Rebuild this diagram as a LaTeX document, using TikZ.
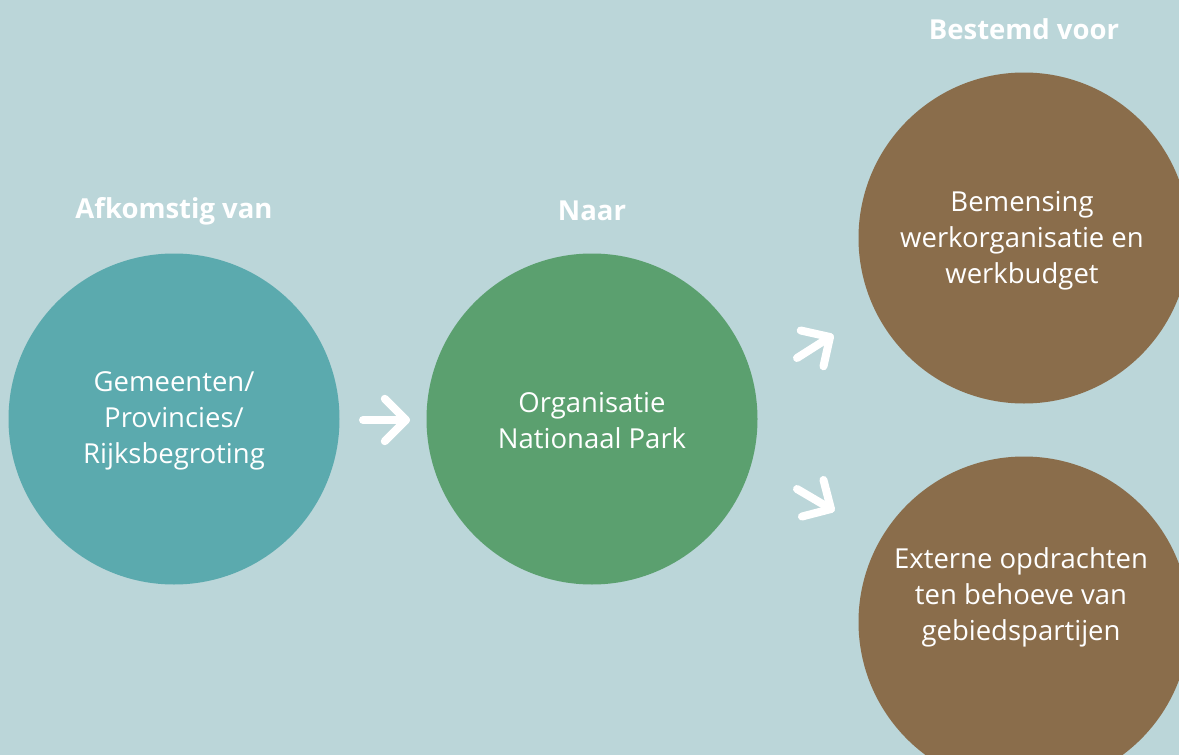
\documentclass[tikz,border=0pt]{standalone}
\usepackage{fontspec}
\setmainfont{Open Sans}
\usetikzlibrary{calc}
\definecolor{bgc}{HTML}{BBD6D9}
\definecolor{tealc}{HTML}{5BAAAE}
\definecolor{greenc}{HTML}{5BA06F}
\definecolor{brownc}{HTML}{8A6D4B}
\tikzset{
  disc/.style={circle, minimum size=331pt, inner sep=0pt},
  lbl/.style={text=white, align=center, font=\fontsize{27.5}{36}\selectfont},
  hdr/.style={text=white, font=\bfseries\fontsize{27.5}{32}\selectfont},
  arr/.style={draw=white, line width=8pt, line cap=round, line join=round}
}
\begin{document}
\begin{tikzpicture}[x=1pt,y=-1pt]
\useasboundingbox (0,0) rectangle (1179,755);
\fill[bgc] (0,0) rectangle (1179,755);
\begin{scope}
\clip (0,0) rectangle (1179,755);
\node[disc, fill=tealc] (src) at (174,419) {};
\node[disc, fill=greenc] (org) at (592,419) {};
\node[disc, fill=brownc] (staff) at (1024,238) {};
\node[disc, fill=brownc] (ext) at (1024,622) {};
\end{scope}
\node[lbl] (srct) at (174,421) {Gemeenten/\\Provincies/\\Rijksbegroting};
\node[lbl] (orgt) at (592,421) {Organisatie\\Nationaal Park};
\node[lbl] (stafft) at (1022,241) {Bemensing\\werkorganisatie en\\werkbudget};
\node[lbl] (extt) at (1021,597) {Externe opdrachten\\ten behoeve van\\gebiedspartijen};
\node[hdr] (h1) at (174,211) {Afkomstig van};
\node[hdr] (h2) at (592,211) {Naar};
\node[hdr] (h3) at (1024,29) {Bestemd voor};
% arrows
\coordinate (a1s) at (363,420);
\coordinate (a1e) at (406,420);
\coordinate (a2s) at (797,358);
\coordinate (a2e) at (830,337);
\coordinate (a3s) at (797,489);
\coordinate (a3e) at (831,509);
\foreach \s/\e in {a1s/a1e, a2s/a2e, a3s/a3e}{
  \draw[arr] (\s) -- (\e);
  \draw[arr] ($(\e)!30pt!45:(\s)$) -- (\e) -- ($(\e)!30pt!-45:(\s)$);
}
\end{tikzpicture}
\end{document}
